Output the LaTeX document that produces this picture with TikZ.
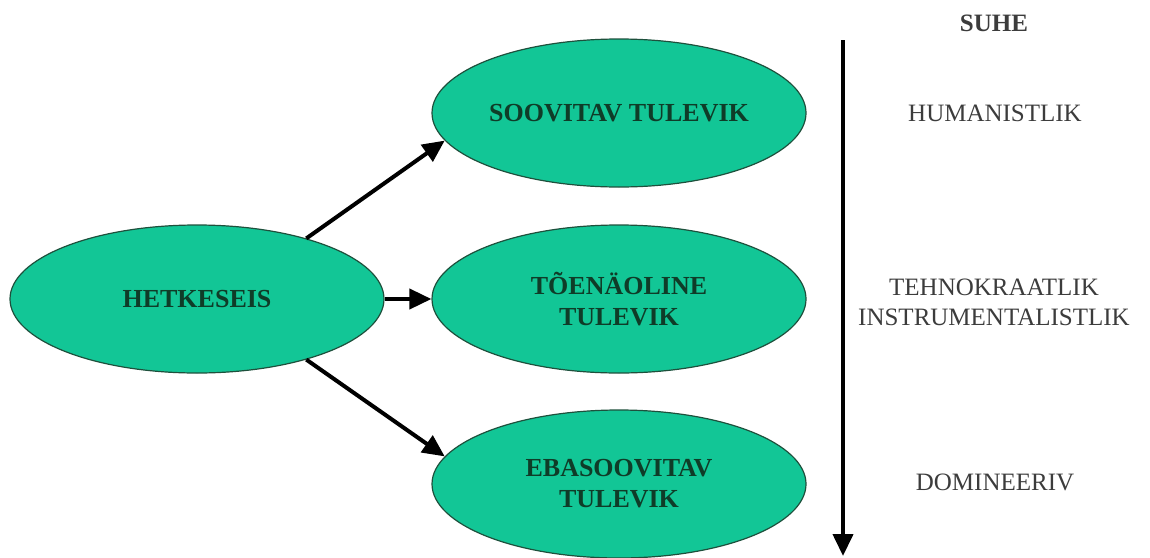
\documentclass[tikz,border=0pt]{standalone}
\usepackage{fontspec}
\setmainfont{Liberation Serif}
\usetikzlibrary{shapes.geometric,arrows.meta}
\definecolor{ellfill}{RGB}{18,198,150}
\definecolor{ellline}{RGB}{30,80,60}
\definecolor{elltext}{RGB}{15,60,40}
\definecolor{sidetext}{RGB}{60,60,60}
\tikzset{
  fut/.style={ellipse, draw=ellline, line width=1.2pt, fill=ellfill, minimum width=374pt, minimum height=148pt, inner sep=0pt, align=center, text=elltext, font=\fontsize{26}{31}\selectfont\bfseries},
  side/.style={align=center, text=sidetext, inner sep=0pt, font=\fontsize{25}{30}\selectfont},
  arr/.style={line width=4pt, -{Triangle[length=22pt,width=20pt]}},
}
\begin{document}
\begin{tikzpicture}[x=1pt,y=-1pt]
\useasboundingbox (0,0) rectangle (1150,557);
\node[fut] (h) at (197,299) {HETKESEIS};
\node[fut] (s) at (619,113) {SOOVITAV TULEVIK};
\node[fut] (t) at (619,299) {TÕENÄOLINE\\TULEVIK};
\node[fut] (e) at (619,484) {EBASOOVITAV\\TULEVIK};
\draw[arr] (h.29) -- (s.189);
\draw[arr] (h.east) -- (t.west);
\draw[arr] (h.-29) -- (e.171);
\coordinate (vtop) at (843,40);
\coordinate (vbot) at (843,556);
\draw[arr] (vtop) -- (vbot);
\node[side, font=\fontsize{25}{30}\selectfont\bfseries] (suhe) at (994,23) {SUHE};
\node[side] (hum) at (995,113) {HUMANISTLIK};
\node[side] (teh) at (994,302) {TEHNOKRAATLIK\\INSTRUMENTALISTLIK};
\node[side] (dom) at (995,482) {DOMINEERIV};
\end{tikzpicture}
\end{document}
